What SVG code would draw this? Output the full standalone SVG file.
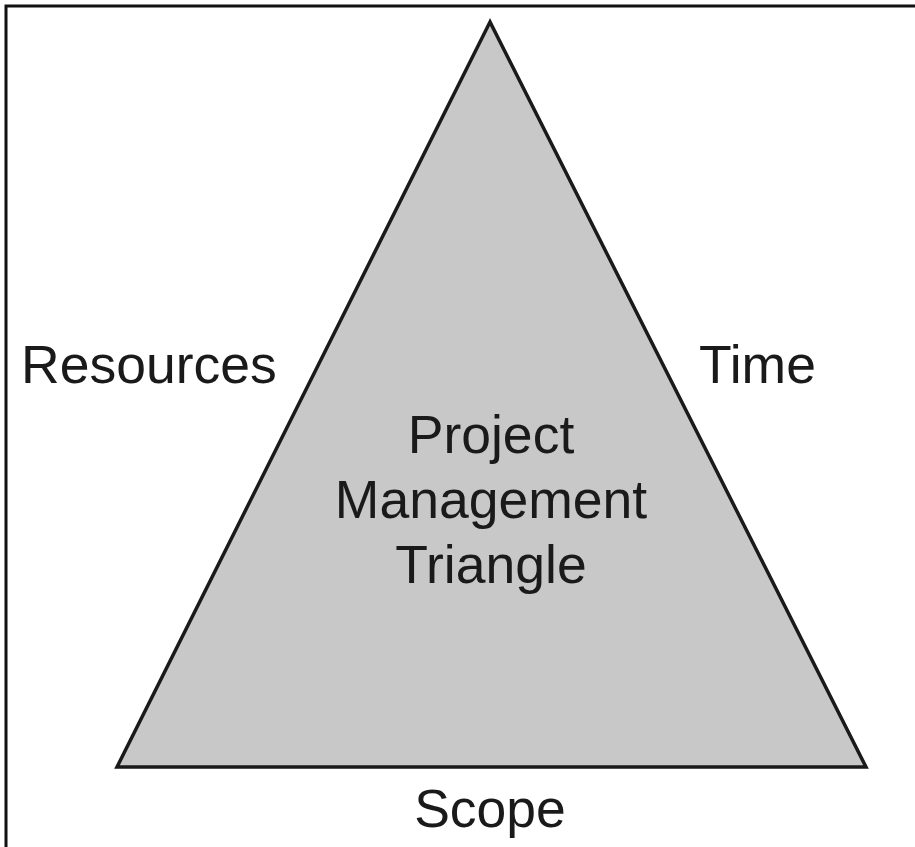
<svg xmlns="http://www.w3.org/2000/svg" width="915" height="847" viewBox="0 0 915 847">
<style>
.lbl{font-family:"Liberation Sans",Arial,sans-serif;font-size:53.5px;fill:#1a1a1a}
.frame{fill:none;stroke:#111;stroke-width:3}
</style>
<rect width="915" height="847" fill="#ffffff"/>
<g id="frame">
<polyline class="frame" points="6,847 6,6 915,6"/>
</g>
<g id="triangle">
<polygon points="490,22 117,767 866,767" fill="#c8c8c8" stroke="#1a1a1a" stroke-width="3.5" stroke-linejoin="miter"/>
<text class="lbl" x="491" y="453" text-anchor="middle">Project</text>
<text class="lbl" x="491" y="518" text-anchor="middle">Management</text>
<text class="lbl" x="491" y="583" text-anchor="middle">Triangle</text>
</g>
<g id="resources"><text class="lbl" x="21" y="383">Resources</text></g>
<g id="time"><text class="lbl" x="699" y="383">Time</text></g>
<g id="scope"><text class="lbl" x="490" y="827" text-anchor="middle">Scope</text></g>
</svg>
